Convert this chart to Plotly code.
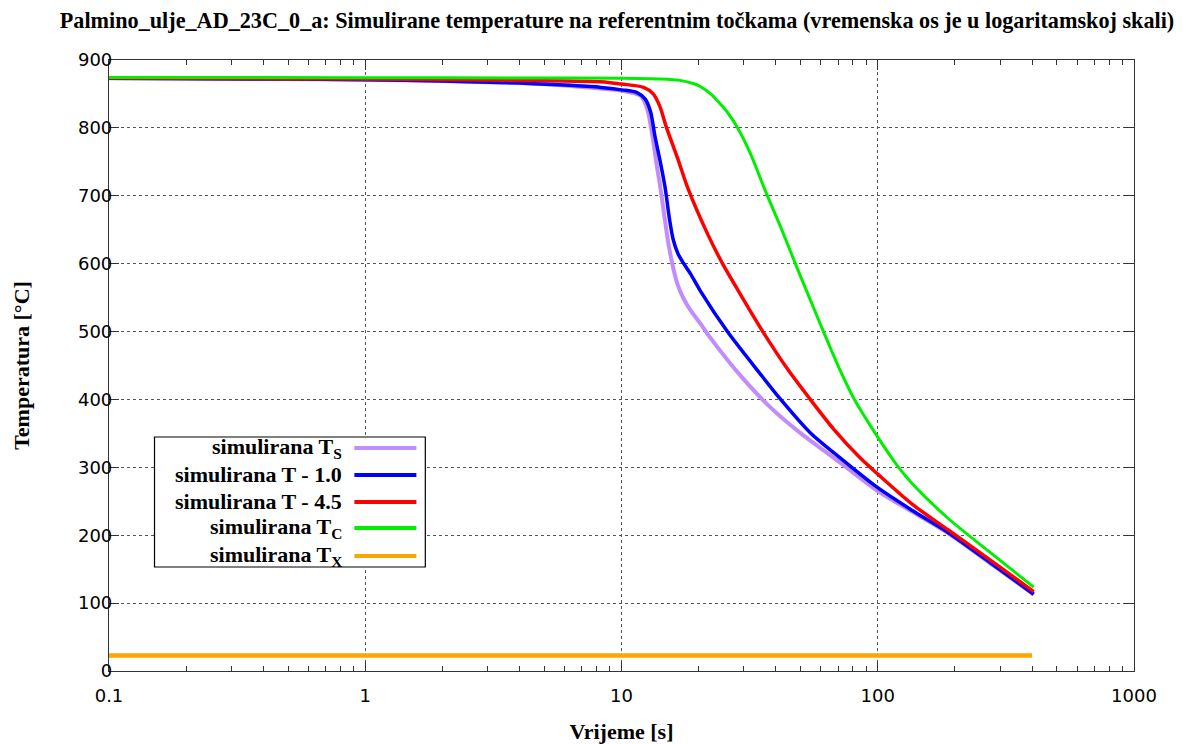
import plotly.graph_objects as go

# ---- data ----
t_s = [0.1, 0.5, 1, 2, 4, 6, 8.3, 10, 11.9, 12.6, 13.2, 13.8, 14.1, 15.3, 16.0, 16.6, 17.5, 18.7, 20.3, 22.3, 29.3, 38.2, 50.1, 67.4, 100, 137, 188, 276, 406]
T_s = [873, 872, 871, 869, 866, 862.5, 858, 855, 847, 828, 788, 739, 718, 626, 590, 568, 548, 530, 512, 490, 434, 388, 350, 314, 265, 234, 203, 158, 113]

t_10 = [0.1, 0.5, 1, 2, 4, 6, 8.3, 10, 11.5, 12.4, 13.0, 13.5, 14.1, 14.8, 15.4, 15.9, 16.6, 17.5, 18.6, 20.3, 25.9, 34.9, 41.8, 54.5, 71.3, 100, 137, 188, 276, 406]
T_10 = [873, 872, 871, 869, 866, 863, 859.6, 856, 852, 842, 823, 788, 754, 712, 665, 636, 615, 600, 585, 560, 500, 437, 400, 351, 314, 270, 236, 204, 159, 113]

t_45 = [0.1, 0.5, 1, 3, 6, 8.3, 10, 12.2, 13.3, 14.1, 15.0, 16.6, 18.2, 21.6, 24.8, 29.3, 35.6, 44.6, 53.3, 67.4, 85.3, 100, 137, 188, 276, 406]
T_45 = [873.5, 872.5, 872, 870.5, 869, 868, 864.6, 859.7, 850, 832, 800, 754, 710, 645, 600, 553, 500, 444, 405, 356, 314, 290, 245, 208, 163, 117]

t_c = [0.1, 1, 5, 10, 14.1, 16.9, 19.2, 20.3, 22.3, 24.2, 25.9, 28.4, 31.7, 36.9, 41.7, 47.7, 54.5, 61.4, 69.2, 80.8, 100.6, 120, 137, 188, 276, 406]
T_c = [874.4, 874, 873.5, 873, 872, 870, 865, 861, 850, 836, 823, 800, 764, 702, 655, 600, 547, 500, 454, 401, 343, 301, 275, 225, 174, 123.5]

t_x = [0.1, 400]
T_x = [23, 23]

legend_labels = ["simulirana T<sub>S</sub>", "simulirana T - 1.0", "simulirana T - 4.5",
                 "simulirana T<sub>C</sub>", "simulirana T<sub>X</sub>"]
colors = ["#c08cff", "#0000ff", "#ff0000", "#00ee00", "#ffa500"]
x_tickvals = [0.1, 1, 10, 100, 1000]
x_ticktext = ["0.1", "1", "10", "100", "1000"]

series = [(t_s, T_s), (t_10, T_10), (t_45, T_45), (t_c, T_c), (t_x, T_x)]
widths = [4, 3.5, 3.5, 3, 4.5]

fig = go.Figure()
for (tx, ty), c, w, name in zip(series, colors, widths, legend_labels):
    fig.add_trace(go.Scatter(x=tx, y=ty, mode="lines", name=name,
                             line=dict(color=c, width=w, shape="spline", smoothing=0.8),
                             showlegend=False))

minor_vals = [m * 10 ** e for e in (-1, 0, 1, 2) for m in range(2, 10)]

serif = "Liberation Serif"
fig.update_xaxes(type="log", range=[-1, 3], tickvals=x_tickvals, ticktext=x_ticktext,
                 ticks="inside", ticklen=10, tickcolor="#333", mirror="allticks",
                 showline=True, linecolor="#333", linewidth=1.2,
                 showgrid=True, gridcolor="#555", griddash="dot", gridwidth=1,
                 zeroline=False, automargin=False, ticklabelstandoff=8,
                 minor=dict(tickvals=minor_vals, ticks="inside", ticklen=5, tickcolor="#333", showgrid=False),
                 tickfont=dict(family="DejaVu Sans", size=18, color="black"),
                 title=dict(text="<b>Vrijeme [s]</b>", font=dict(family=serif, size=22, color="black"), standoff=29))
fig.update_yaxes(range=[0, 900], dtick=100, ticks="inside", ticklen=10, tickcolor="#333",
                 mirror="allticks", showline=True, linecolor="#333", linewidth=1.2,
                 showgrid=True, gridcolor="#555", griddash="dot", gridwidth=1, zeroline=False,
                 automargin=False, ticklabelstandoff=-8,
                 tickfont=dict(family="DejaVu Sans", size=18, color="black"),
                 title=dict(text="<b>Temperatura [°C]</b>", font=dict(family=serif, size=22, color="black"), standoff=42))

# legend box drawn manually (text left of line sample, like gnuplot)
fig.add_shape(type="rect", xref="paper", yref="paper", x0=0.0444, x1=0.3086, y0=0.1702, y1=0.383,
              line=dict(color="black", width=1.2), fillcolor="white", layer="above")
rows = [0.365, 0.3208, 0.2766, 0.2341, 0.1882]
for lab, c, yy in zip(legend_labels, colors, rows):
    fig.add_annotation(xref="paper", yref="paper", x=0.2288, y=yy, xanchor="right", yanchor="middle",
                       text="<b>" + lab + "</b>", showarrow=False,
                       font=dict(family=serif, size=22, color="black"))
    fig.add_shape(type="line", xref="paper", yref="paper", x0=0.2394, x1=0.2999, y0=yy, y1=yy,
                  line=dict(color=c, width=4), layer="above")

# the page body adds an 8px offset, so the figure is 8px smaller and left/top margins shifted
fig.update_layout(
    width=1178, height=736,
    margin=dict(l=100.5, r=52, t=52, b=73, autoexpand=False),
    paper_bgcolor="white", plot_bgcolor="white",
    title=dict(text="<b>Palmino_ulje_AD_23C_0_a: Simulirane temperature na referentnim točkama (vremenska os je u logaritamskoj skali)</b>",
               x=609 / 1178, xanchor="center", y=1 - 12 / 736, yanchor="middle",
               font=dict(family=serif, size=22.2, color="black"), automargin=False),
)

fig.write_html("out.html")
